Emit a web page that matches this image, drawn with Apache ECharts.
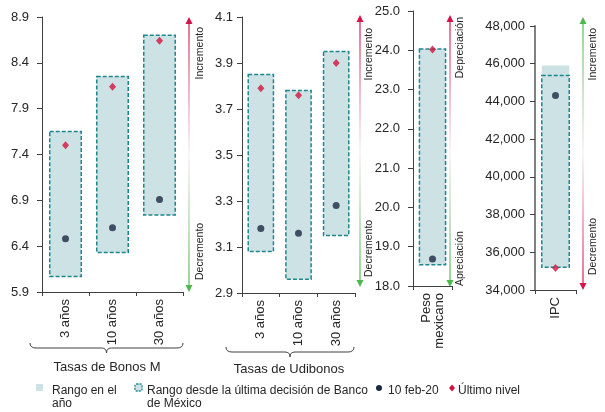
<!DOCTYPE html>
<html>
<head>
<meta charset="utf-8">
<script src="https://cdn.jsdelivr.net/npm/echarts@6/dist/echarts.min.js"></script>
<style>html,body{margin:0;padding:0;background:#fff;}#c{width:605px;height:412px;}</style>
</head>
<body>
<div id="c"></div>
<script>
// ---- Data ----
const bonosCats = ['3 años', '10 años', '30 años'];
const bonosAnoLow = [6.07, 6.33, 6.74];
const bonosAnoHigh = [7.65, 8.25, 8.70];
const bonosDecLow = [6.07, 6.33, 6.74];
const bonosDecHigh = [7.65, 8.25, 8.70];
const bonosFeb = [6.48, 6.60, 6.91];
const bonosUlt = [7.50, 8.14, 8.64];

const udiCats = ['3 años', '10 años', '30 años'];
const udiAnoLow = [3.08, 2.96, 3.15];
const udiAnoHigh = [3.85, 3.78, 3.95];
const udiDecLow = [3.08, 2.96, 3.15];
const udiDecHigh = [3.85, 3.78, 3.95];
const udiFeb = [3.18, 3.16, 3.28];
const udiUlt = [3.79, 3.76, 3.90];

const pesoCats = ['Peso\nmexicano'];
const pesoAnoLow = [18.54];
const pesoAnoHigh = [24.03];
const pesoDecLow = [18.54];
const pesoDecHigh = [24.03];
const pesoFeb = [18.69];
const pesoUlt = [24.02];

const ipcCats = ['IPC'];
const ipcAnoLow = [35200];
const ipcAnoHigh = [45910];
const ipcDecLow = [35200];
const ipcDecHigh = [45380];
const ipcFeb = [44320];
const ipcUlt = [35170];

const yMins = [5.9, 2.9, 18.0, 34000];
const yMaxs = [8.9, 4.1, 25.0, 48000];
const yIntervals = [0.5, 0.2, 1.0, 2000];

const groupTitles = ['Tasas de Bonos M', 'Tasas de Udibonos'];
const arrowTop = ['Incremento', 'Incremento', 'Depreciación', 'Incremento'];
const arrowBottom = ['Decremento', 'Decremento', 'Apreciación', 'Decremento'];
const legendNames = ['Rango en el\naño', 'Rango desde la última decisión de Banco\nde México', '10 feb-20', 'Último nivel'];

// ---- Style ----
const FONT = 'Liberation Sans, Arial, sans-serif';
const TXT = '#262626';
const FILL = '#cde2e4';
const DASH = '#1f868c';
const DOT = '#1c2942';
const RED = '#d2133f';

const grids = [
  {left: 42, top: 17, width: 141, height: 275},
  {left: 242, top: 17, width: 113, height: 276},
  {left: 413, top: 11, width: 39, height: 275},
  {left: 535, top: 26, width: 41, height: 264}
];
const labelMargins = [13, 9, 13, 10];

const panels = [
  {cats: bonosCats, aLo: bonosAnoLow, aHi: bonosAnoHigh, dLo: bonosDecLow, dHi: bonosDecHigh, feb: bonosFeb, ult: bonosUlt},
  {cats: udiCats, aLo: udiAnoLow, aHi: udiAnoHigh, dLo: udiDecLow, dHi: udiDecHigh, feb: udiFeb, ult: udiUlt},
  {cats: pesoCats, aLo: pesoAnoLow, aHi: pesoAnoHigh, dLo: pesoDecLow, dHi: pesoDecHigh, feb: pesoFeb, ult: pesoUlt},
  {cats: ipcCats, aLo: ipcAnoLow, aHi: ipcAnoHigh, dLo: ipcDecLow, dHi: ipcDecHigh, feb: ipcFeb, ult: ipcUlt}
];

function fmtY(i) {
  return function (v) {
    if (i === 3) return v.toLocaleString('en-US');
    return v.toFixed(1);
  };
}

function boxRenderer(dashed) {
  return function (params, api) {
    const x = api.value(0);
    const lo = api.coord([x, api.value(1)]);
    const hi = api.coord([x, api.value(2)]);
    const bw = api.size([1, 0])[0] * 0.67;
    return {
      type: 'rect',
      shape: {x: lo[0] - bw / 2, y: hi[1], width: bw, height: lo[1] - hi[1]},
      style: dashed
        ? {fill: 'none', stroke: DASH, lineWidth: 1.5, lineDash: [4, 2]}
        : {fill: FILL}
    };
  };
}

const xAxes = [], yAxes = [], series = [];
panels.forEach((p, i) => {
  xAxes.push({
    type: 'category', gridIndex: i, data: p.cats,
    axisLine: {lineStyle: {color: '#404040', width: 1}},
    axisTick: {show: true, length: 4, lineStyle: {color: '#404040'}},
    axisLabel: {rotate: 90, fontSize: 13, margin: 7, color: TXT, fontFamily: FONT, interval: 0}
  });
  yAxes.push({
    type: 'value', gridIndex: i, min: yMins[i], max: yMaxs[i], interval: yIntervals[i],
    axisLine: {show: true, lineStyle: {color: i === 3 ? '#808080' : '#404040', width: i === 3 ? 2 : 1}},
    axisTick: {show: true, length: 5, lineStyle: {color: '#404040'}},
    splitLine: {show: false},
    axisLabel: {fontSize: 13, color: TXT, fontFamily: FONT, margin: labelMargins[i], formatter: fmtY(i)}
  });
  series.push({
    type: 'custom', name: legendNames[0], xAxisIndex: i, yAxisIndex: i, z: 2,
    renderItem: boxRenderer(false),
    data: p.cats.map((c, k) => [k, p.aLo[k], p.aHi[k]])
  });
  series.push({
    type: 'custom', name: legendNames[1], xAxisIndex: i, yAxisIndex: i, z: 3,
    renderItem: boxRenderer(true),
    data: p.cats.map((c, k) => [k, p.dLo[k], p.dHi[k]])
  });
  series.push({
    type: 'scatter', name: legendNames[2], xAxisIndex: i, yAxisIndex: i, z: 4,
    symbol: 'circle', symbolSize: 7, itemStyle: {color: DOT},
    data: p.feb
  });
  series.push({
    type: 'scatter', name: legendNames[3], xAxisIndex: i, yAxisIndex: i, z: 5,
    symbol: 'diamond', symbolSize: [7, 8], itemStyle: {color: RED},
    data: p.ult
  });
});

// ---- Decorations (arrows, braces, legend) ----
const arrowGeo = [
  {x: 189, y1: 17, y2: 292, topUp: true, lx: 200, ly1: 27, ly2: 280},
  {x: 360, y1: 15, y2: 287, topUp: true, lx: 369, ly1: 28, ly2: 277},
  {x: 450, y1: 15, y2: 287, topUp: true, lx: 460, ly1: 17, ly2: 286},
  {x: 583, y1: 17, y2: 290, topUp: false, lx: 593, ly1: 28, ly2: 275}
];
const graphics = [];
arrowGeo.forEach((a, i) => {
  const red = '#d3134a', green = '#4db84d';
  const cTop = a.topUp ? red : green, cBot = a.topUp ? green : red;
  graphics.push({
    type: 'rect', shape: {x: a.x - 0.6, y: a.y1 + 4, width: 1.2, height: a.y2 - a.y1 - 8},
    style: {fill: {type: 'linear', x: 0, y: 0, x2: 0, y2: 1, colorStops: [
      {offset: 0, color: cTop}, {offset: 0.5, color: '#f7eef0'}, {offset: 1, color: cBot}]}},
    silent: true
  });
  graphics.push({type: 'polygon', shape: {points: [[a.x, a.y1], [a.x - 3.5, a.y1 + 7], [a.x + 3.5, a.y1 + 7]]}, style: {fill: cTop}});
  graphics.push({type: 'polygon', shape: {points: [[a.x, a.y2], [a.x - 3.5, a.y2 - 7], [a.x + 3.5, a.y2 - 7]]}, style: {fill: cBot}});
  graphics.push({type: 'text', x: a.lx, y: a.ly1, rotation: Math.PI / 2,
    style: {text: arrowTop[i], font: '10.5px ' + FONT, fill: TXT, align: 'right', verticalAlign: 'middle'}});
  graphics.push({type: 'text', x: a.lx, y: a.ly2, rotation: Math.PI / 2,
    style: {text: arrowBottom[i], font: '10.5px ' + FONT, fill: TXT, align: 'left', verticalAlign: 'middle'}});
});

function pushBrace(x1, x2, yTop, yMid, yTip) {
  const c = (x1 + x2) / 2;
  const st = {fill: 'none', stroke: '#404040', lineWidth: 1};
  graphics.push({type: 'bezierCurve', shape: {x1: x1, y1: yTop, x2: x1 + 6, y2: yMid, cpx1: x1, cpy1: yMid}, style: st});
  graphics.push({type: 'line', shape: {x1: x1 + 6, y1: yMid, x2: c - 5, y2: yMid}, style: st});
  graphics.push({type: 'bezierCurve', shape: {x1: c - 5, y1: yMid, x2: c, y2: yTip, cpx1: c, cpy1: yMid}, style: st});
  graphics.push({type: 'bezierCurve', shape: {x1: c, y1: yTip, x2: c + 5, y2: yMid, cpx1: c, cpy1: yMid}, style: st});
  graphics.push({type: 'line', shape: {x1: c + 5, y1: yMid, x2: x2 - 6, y2: yMid}, style: st});
  graphics.push({type: 'bezierCurve', shape: {x1: x2 - 6, y1: yMid, x2: x2, y2: yTop, cpx1: x2, cpy1: yMid}, style: st});
}
const braces = [
  {x1: 30, x2: 183, yTop: 343, yMid: 348, yTip: 353, tx: 107, ty: 367},
  {x1: 226, x2: 354, yTop: 347, yMid: 352, yTip: 357, tx: 289, ty: 369}
];
braces.forEach((b, i) => {
  pushBrace(b.x1, b.x2, b.yTop, b.yMid, b.yTip);
  graphics.push({type: 'text', x: b.tx, y: b.ty,
    style: {text: groupTitles[i], font: '13px ' + FONT, fill: TXT, align: 'center', verticalAlign: 'middle'}});
});

// legend
const LF = '12px ' + FONT;
graphics.push({type: 'rect', shape: {x: 36, y: 384, width: 7, height: 7}, style: {fill: FILL}});
graphics.push({type: 'text', x: 52, y: 384, style: {text: legendNames[0], font: LF, fill: TXT, lineHeight: 13, verticalAlign: 'top'}});
graphics.push({type: 'rect', shape: {x: 135, y: 384, width: 7, height: 7, r: 1.5}, style: {fill: FILL, stroke: DASH, lineWidth: 1.3, lineDash: [2, 1]}});
graphics.push({type: 'text', x: 147, y: 384, style: {text: legendNames[1], font: LF, fill: TXT, lineHeight: 13, verticalAlign: 'top'}});
graphics.push({type: 'circle', shape: {cx: 379, cy: 388, r: 3}, style: {fill: DOT}});
graphics.push({type: 'text', x: 388, y: 384, style: {text: legendNames[2], font: LF, fill: TXT, lineHeight: 13, verticalAlign: 'top'}});
graphics.push({type: 'polygon', shape: {points: [[452, 384.5], [455, 388], [452, 391.5], [449, 388]]}, style: {fill: RED}});
graphics.push({type: 'text', x: 458, y: 384, style: {text: legendNames[3], font: LF, fill: TXT, lineHeight: 13, verticalAlign: 'top'}});

const chart = echarts.init(document.getElementById('c'), null, {renderer: 'canvas'});
chart.setOption({
  animation: false,
  backgroundColor: '#fff',
  textStyle: {fontFamily: FONT},
  grid: grids,
  xAxis: xAxes,
  yAxis: yAxes,
  series: series,
  graphic: graphics
});
</script>
</body>
</html>
